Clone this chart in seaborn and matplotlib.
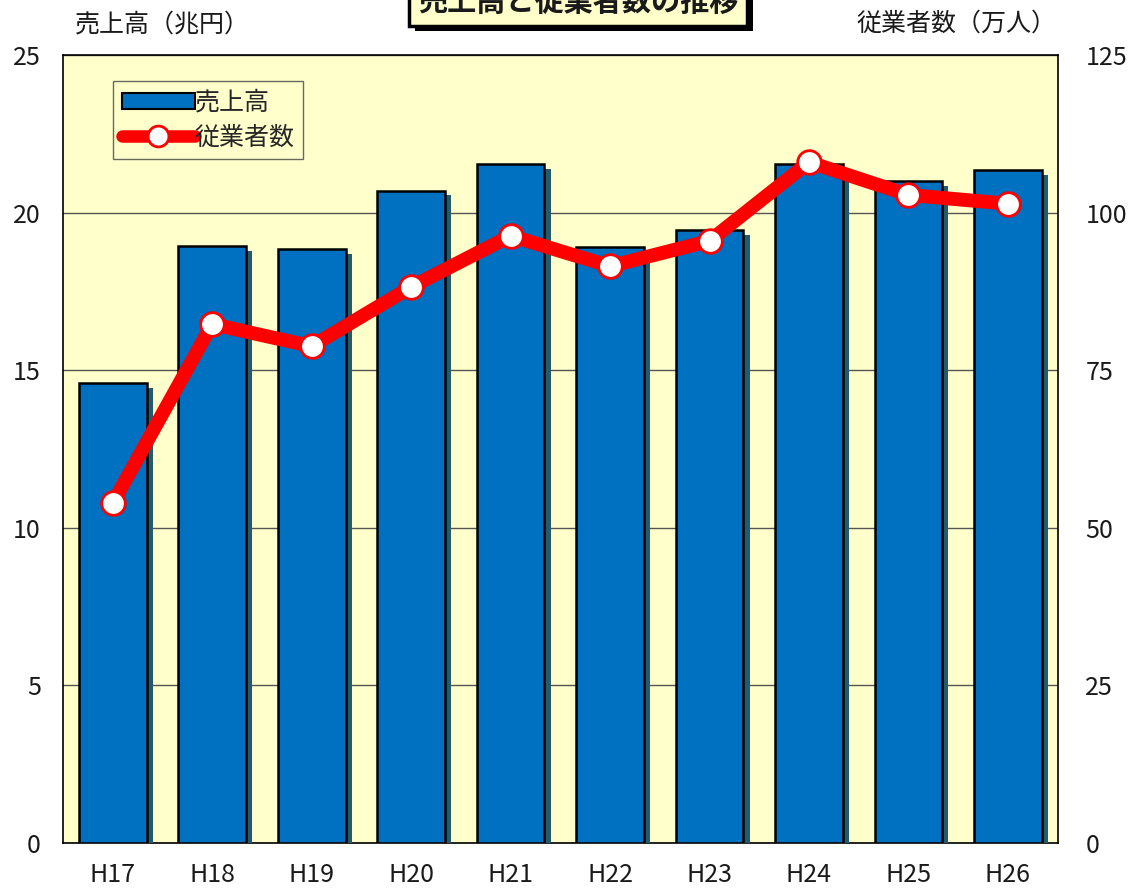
import numpy as np
import pandas as pd
import matplotlib
matplotlib.use("Agg")
import matplotlib.pyplot as plt
import matplotlib.patheffects as pe
from matplotlib.lines import Line2D
from matplotlib.patches import Patch
import seaborn as sns

# data
years = ["H17", "H18", "H19", "H20", "H21", "H22", "H23", "H24", "H25", "H26"]
sales = [14.6, 18.95, 18.85, 20.7, 21.55, 18.9, 19.45, 21.55, 21.0, 21.35]       # 兆円
workers = [53.9, 82.3, 78.8, 88.2, 96.3, 91.5, 95.5, 108.0, 102.8, 101.4]         # 万人

df = pd.DataFrame({"year": years, "sales": sales, "workers": workers})

sns.set_theme(style="white")
plt.rcParams['font.family'] = ['Noto Sans CJK JP', 'DejaVu Sans']

bg = "#FFFFCC"
bar_col = "#0070C0"
shadow_col = "#235B6B"
txt = "#1a1a1a"

fig = plt.figure(figsize=(11.36, 8.91), dpi=100)
ax = fig.add_axes([0.0555, 0.0539, 0.8755, 0.8844])
ax.set_facecolor(bg)

sns.barplot(data=df, x="year", y="sales", color=bar_col, width=0.68,
            edgecolor="black", linewidth=1.8, saturation=1, ax=ax, zorder=3)
for p in ax.patches:
    p.set_path_effects([pe.SimplePatchShadow(offset=(4.5, -3.5), shadow_rgbFace=shadow_col, alpha=1),
                        pe.Normal()])

ax.set_ylim(0, 25)
ax.set_yticks([0, 5, 10, 15, 20, 25])
ax.set_xlim(-0.5, len(years) - 0.5)
ax.yaxis.grid(True, color="#555555", linewidth=1.0, zorder=0)
ax.set_axisbelow(True)
ax.set_xlabel("")
ax.set_ylabel("")
ax.tick_params(axis="x", length=0, labelsize=18, pad=14, colors=txt)
ax.tick_params(axis="y", length=0, labelsize=18, pad=16, colors=txt)
ax.set_xticks(np.arange(len(years)) + 0.5, minor=True)
ax.tick_params(axis="x", which="minor", direction="in", length=6, color="#888888")
for s in ax.spines.values():
    s.set_color("black")
    s.set_linewidth(1.2)

ax2 = ax.twinx()
ax2.plot(np.arange(len(years)), df["workers"], color="red", linewidth=10,
         marker="o", markersize=17, markerfacecolor="white",
         markeredgecolor="red", markeredgewidth=2, solid_joinstyle="miter", zorder=5)
ax2.set_ylim(0, 125)
ax2.set_yticks([0, 25, 50, 75, 100, 125])
ax2.tick_params(axis="y", length=0, labelsize=18, pad=20, colors=txt)
for s in ax2.spines.values():
    s.set_visible(False)
ax2.grid(False)

# axis titles
fig.text(0.066, 0.973, "売上高（兆円）", fontsize=18, ha="left", va="center", color=txt)
fig.text(0.930, 0.973, "従業者数（万人）", fontsize=18, ha="right", va="center", color=txt)

# title box (cut at the top edge as in the original)
t = fig.text(0.509, 0.998, "売上高と従業者数の推移", fontsize=21, ha="center", va="center",
             fontweight="bold", color=txt,
             bbox=dict(boxstyle="square,pad=0.3", facecolor=bg, edgecolor="black", linewidth=2.5))
t.get_bbox_patch().set_path_effects([pe.SimplePatchShadow(offset=(4, -4), shadow_rgbFace="black", alpha=1),
                                     pe.Normal()])

handles = [Patch(facecolor=bar_col, edgecolor="black", linewidth=1.5),
           Line2D([0], [0], color="red", linewidth=9, marker="o", markersize=15,
                  markerfacecolor="white", markeredgecolor="red", markeredgewidth=2)]
leg = ax.legend(handles, ["売上高", "従業者数"], loc="upper left", bbox_to_anchor=(0.038, 0.983),
                fontsize=18, frameon=True, fancybox=False, handlelength=2.9, handleheight=0.6,
                handletextpad=0.0, borderpad=0.35, labelspacing=0.35)
leg.get_frame().set_facecolor(bg)
leg.get_frame().set_edgecolor("#444444")
leg.get_frame().set_linewidth(1.0)
leg.set_zorder(10)

fig.savefig("out.png", dpi=100, facecolor="white")
